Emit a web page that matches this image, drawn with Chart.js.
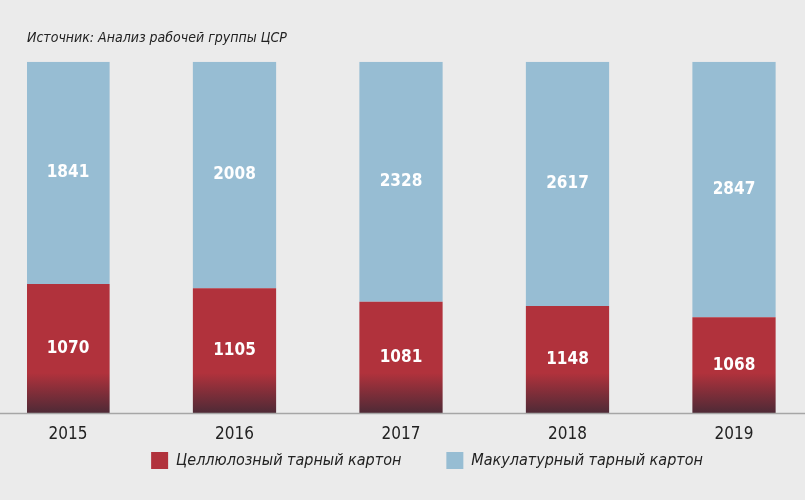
<!DOCTYPE html>
<html lang="ru">

<head>
  <meta charset="UTF-8">
  <title>Целлюлозный и макулатурный тарный картон</title>
  <script src="https://cdn.jsdelivr.net/npm/chart.js"></script>
  <style>
    html, body { margin: 0; padding: 0; background: #ebebeb; }
    canvas { display: block; }
  </style>
</head>

<body>
  <canvas id="myChart" width="805" height="500"></canvas>

  <script>
    // Data
    const years = ['2015', '2016', '2017', '2018', '2019'];
    const virginBoard = [1070, 1105, 1081, 1148, 1068];      // целлюлозный
    const recycledBoard = [1841, 2008, 2328, 2617, 2847];    // макулатурный

    const seriesNames = ['Целлюлозный тарный картон', 'Макулатурный тарный картон'];
    const sourceText = 'Источник: Анализ рабочей группы ЦСР';

    const RED = '#b1323c';
    const RED_DARK = '#4e2a36';
    const BLUE = '#97bdd3';
    const FONT = "'DejaVu Sans Condensed', 'Liberation Sans', sans-serif";

    // each bar is 100%, so turn values into shares
    const totals = years.map((_, i) => virginBoard[i] + recycledBoard[i]);
    const toPoints = (vals) => vals.map((v, i) => ({ x: i, y: v / totals[i] * 100, raw: v }));

    // red fades to dark near the bottom of the bars
    const redFill = (c) => {
      const area = c.chart.chartArea;
      if (!area) return RED;
      const g = c.chart.ctx.createLinearGradient(0, area.bottom - 40, 0, area.bottom);
      g.addColorStop(0, RED);
      g.addColorStop(1, RED_DARK);
      return g;
    };

    // white numbers in the middle of every segment
    const valueLabels = {
      id: 'valueLabels',
      afterDatasetsDraw(chart) {
        const ctx = chart.ctx;
        ctx.save();
        ctx.fillStyle = '#ffffff';
        ctx.font = 'bold 17px ' + FONT;
        ctx.textAlign = 'center';
        ctx.textBaseline = 'middle';
        chart.data.datasets.forEach((ds, di) => {
          chart.getDatasetMeta(di).data.forEach((bar, i) => {
            ctx.fillText(String(ds.data[i].raw), bar.x, (bar.y + bar.base) / 2);
          });
        });
        ctx.restore();
      }
    };

    // grey base line over the whole width
    const baseLine = {
      id: 'baseLine',
      afterDatasetsDraw(chart) {
        const y = Math.round(chart.scales.y.getPixelForValue(0)) + 0.5;
        const ctx = chart.ctx;
        ctx.save();
        ctx.strokeStyle = '#a6a6a6';
        ctx.lineWidth = 1.5;
        ctx.beginPath();
        ctx.moveTo(0, y);
        ctx.lineTo(chart.width, y);
        ctx.stroke();
        ctx.restore();
      }
    };

    // pull the legend up a little, right under the year labels
    const legendNudge = {
      id: 'legendNudge',
      afterLayout(chart) {
        const lg = chart.legend;
        const shift = lg.top - (chart.chartArea.bottom - 6);
        lg.top -= shift;
        lg.bottom -= shift;
      }
    };

    const data = {
      datasets: [
        {
          label: seriesNames[0],
          data: toPoints(virginBoard),
          backgroundColor: redFill,
          borderWidth: 0,
          barPercentage: 1,
          categoryPercentage: 0.5
        },
        {
          label: seriesNames[1],
          data: toPoints(recycledBoard),
          backgroundColor: BLUE,
          borderWidth: 0,
          barPercentage: 1,
          categoryPercentage: 0.5
        }
      ]
    };

    const options = {
      responsive: false,
      animation: false,
      layout: { padding: { left: 27, right: -22, top: 0, bottom: -25 } },
      scales: {
        x: {
          type: 'linear',
          offset: false,
          stacked: true,
          min: -0.2462,
          max: 4.4264,
          grid: { display: false },
          border: { display: false },
          afterFit: (scale) => { scale.height = 40; },
          ticks: {
            stepSize: 1,
            includeBounds: false,
            autoSkip: false,
            maxRotation: 0,
            padding: 3,
            color: '#222222',
            font: { family: FONT, size: 17 },
            callback: (v) => years[v] ?? ''
          }
        },
        y: {
          stacked: true,
          min: 0,
          max: 100,
          display: false
        }
      },
      plugins: {
        tooltip: { enabled: false },
        title: {
          display: true,
          text: sourceText,
          align: 'start',
          color: '#222222',
          padding: { top: 30, bottom: 15 },
          font: { family: FONT, size: 14, style: 'italic', weight: 'normal' }
        },
        legend: {
          position: 'bottom',
          labels: {
            boxWidth: 17,
            boxHeight: 17,
            padding: 45,
            color: '#222222',
            font: { family: FONT, size: 16, style: 'italic' },
            generateLabels: (chart) => {
              const items = Chart.defaults.plugins.legend.labels.generateLabels(chart);
              items.forEach((it) => { it.fillStyle = [RED, BLUE][it.datasetIndex]; });
              return items;
            }
          }
        }
      }
    };

    const ctx = document.getElementById('myChart').getContext('2d');
    const myChart = new Chart(ctx, {
      type: 'bar',
      data: data,
      options: options,
      plugins: [legendNudge, baseLine, valueLabels]
    });
  </script>
</body>

</html>
